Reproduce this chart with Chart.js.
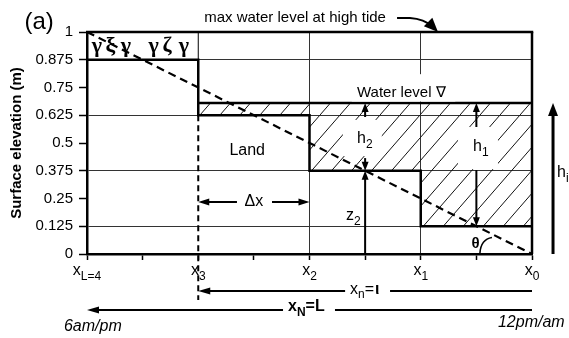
<!DOCTYPE html>
<html>
<head>
<meta charset="utf-8">
<script src="https://cdn.jsdelivr.net/npm/chart.js@4.4.0/dist/chart.umd.min.js"></script>
<style>
  html, body { margin: 0; padding: 0; background: #fff; }
  canvas { display: block; }
</style>
</head>
<body>
<canvas id="c" width="569" height="338"></canvas>
<script>
// ----------------------
// DATA
// ----------------------
const xTickMarks = [0, 0.5, 1, 1.5, 2, 2.5, 3, 3.5, 4];
const xLabelValues = [4, 3, 2, 1, 0];
const xLabelSubs = ['L=4', '3', '2', '1', '0'];
const xGridValues = [1, 2];

const yTickValues = [0, 0.125, 0.25, 0.375, 0.5, 0.625, 0.75, 0.875, 1];
const yTickLabels = ['0', '0.125', '0.25', '0.375', '0.5', '0.625', '0.75', '0.875', '1'];
const yGridValues = [0.125, 0.375, 0.625, 0.875];

// land profile (steps)
const landX = [4, 3, 3, 2, 2, 1, 1, 0];
const landY = [0.875, 0.875, 0.625, 0.625, 0.375, 0.375, 0.125, 0.125];

// water level
const waterX = [3, 0];
const waterY = [0.68, 0.68];

// sloping dashed line
const slopeX = [4, 0];
const slopeY = [1, 0];

const FONT = '"Liberation Sans", Arial, sans-serif';
Chart.defaults.font.family = FONT;
Chart.defaults.color = '#000';

const toPts = (xs, ys) => xs.map((x, i) => ({ x: x, y: ys[i] }));

// hatched water body: water line, then the land under it back to x3, closed
const landUnderWater = toPts(landX, landY).filter(p => p.x <= 3 && p.y < waterY[0]).reverse();
const hatchPts = toPts(waterX, waterY).concat(landUnderWater, [{ x: waterX[0], y: waterY[0] }]);

function makeHatch() {
  const c = document.createElement('canvas');
  c.width = 20; c.height = 23;
  const g = c.getContext('2d');
  g.strokeStyle = '#111';
  g.lineWidth = 1;
  g.beginPath();
  g.moveTo(0, 23); g.lineTo(20, 0);
  g.stroke();
  return g.createPattern(c, 'repeat');
}

// ----------------------
// DRAW HELPERS
// ----------------------
function seg(ctx, x1, y1, x2, y2, w, dash) {
  ctx.save();
  ctx.strokeStyle = '#000';
  ctx.lineWidth = w;
  ctx.setLineDash(dash || []);
  ctx.beginPath();
  ctx.moveTo(x1, y1);
  ctx.lineTo(x2, y2);
  ctx.stroke();
  ctx.restore();
}

function head(ctx, x, y, ang, len, half) {
  ctx.save();
  ctx.fillStyle = '#000';
  ctx.translate(x, y);
  ctx.rotate(ang);
  ctx.beginPath();
  ctx.moveTo(0, 0);
  ctx.lineTo(-len, -half);
  ctx.lineTo(-len, half);
  ctx.closePath();
  ctx.fill();
  ctx.restore();
}

// parts: [text, isSub]
function rich(ctx, x, y, parts, size, style, align) {
  const sub = Math.round(size * 0.72);
  const f = s => (style ? style + ' ' : '') + s + 'px ' + FONT;
  let w = 0;
  parts.forEach(p => { ctx.font = f(p[1] ? sub : size); w += ctx.measureText(p[0]).width; });
  let cx = align === 'center' ? x - w / 2 : x;
  ctx.save();
  ctx.fillStyle = '#000';
  ctx.textAlign = 'left';
  ctx.textBaseline = 'alphabetic';
  parts.forEach(p => {
    ctx.font = f(p[1] ? sub : size);
    ctx.fillText(p[0], cx, y + (p[1] ? size * 0.3 : 0));
    cx += ctx.measureText(p[0]).width;
  });
  ctx.restore();
  return w;
}

function text(ctx, s, x, y, font, align, base) {
  ctx.save();
  ctx.fillStyle = '#000';
  ctx.font = font;
  ctx.textAlign = align || 'left';
  ctx.textBaseline = base || 'middle';
  ctx.fillText(s, x, y);
  ctx.restore();
}

function whiteBox(ctx, x1, y1, x2, y2) {
  ctx.save();
  ctx.fillStyle = '#fff';
  ctx.fillRect(Math.min(x1, x2), Math.min(y1, y2), Math.abs(x2 - x1), Math.abs(y2 - y1));
  ctx.restore();
}

// ----------------------
// ANNOTATION PLUGIN
// ----------------------
const annotations = {
  id: 'annotations',
  beforeDatasetsDraw(chart) {
    const ctx = chart.ctx;
    const X = v => chart.scales.x.getPixelForValue(v);
    const Y = v => chart.scales.y.getPixelForValue(v);
    // thin line at x3 above the land top
    seg(ctx, X(3), Y(1), X(3), Y(0.875), 1);
    // dashed line at x3 down below the axis
    seg(ctx, X(3), Y(0.625), X(3), Y(-0.207), 2, [6, 4]);
  },
  afterDatasetsDraw(chart) {
    const ctx = chart.ctx;
    const X = v => chart.scales.x.getPixelForValue(v);
    const Y = v => chart.scales.y.getPixelForValue(v);
    const a = chart.chartArea;

    // top and right frame
    seg(ctx, a.left - 1, a.top, a.right + 1.25, a.top, 2.5);
    seg(ctx, a.right, a.top, a.right, a.bottom, 2.5);

    // panel label
    text(ctx, '(a)', X(4.43), Y(1.045), '24px ' + FONT, 'center');

    // max water level note + curved arrow
    text(ctx, 'max water level at high tide', X(2.13), Y(1.063), '15px ' + FONT, 'center');
    ctx.save();
    ctx.lineWidth = 2;
    ctx.beginPath();
    ctx.moveTo(X(1.213), Y(1.063));
    ctx.lineTo(X(1.097), Y(1.063));
    ctx.quadraticCurveTo(X(0.971), Y(1.059), X(0.89), Y(1.023));
    ctx.stroke();
    ctx.restore();
    head(ctx, X(0.845), Y(1.0), Math.PI / 4, 14, 6);

    // grass symbols on the upper land
    const grass = ['γ', 'ξ', 'γ', 'γ', 'ζ', 'γ'];
    const grassX = [3.91, 3.79, 3.65, 3.40, 3.28, 3.13];
    grass.forEach((g, i) => text(ctx, g, X(grassX[i]), Y(0.935), 'bold 22px "Liberation Serif", serif', 'center'));

    // water level label
    whiteBox(ctx, X(1.62), Y(0.81), X(0.69), Y(0.687));
    text(ctx, 'Water level ∇', X(1.573), Y(0.727), '15px ' + FONT, 'left');

    // land label
    text(ctx, 'Land', X(2.56), Y(0.468), '16px ' + FONT, 'center');

    // h2
    whiteBox(ctx, X(1.70), Y(0.604), X(1.35), Y(0.441));
    seg(ctx, X(1.5), Y(0.68) + 4, X(1.5), Y(0.617), 2);
    head(ctx, X(1.5), Y(0.68), -Math.PI / 2, 9, 3.5);
    seg(ctx, X(1.5), Y(0.432), X(1.5), Y(0.375) - 4, 2);
    head(ctx, X(1.5), Y(0.375), Math.PI / 2, 9, 3.5);
    rich(ctx, X(1.573), Y(0.5), [['h', 0], ['2', 1]], 16);

    // h1
    whiteBox(ctx, X(0.665), Y(0.572), X(0.306), Y(0.382));
    seg(ctx, X(0.5), Y(0.68) + 4, X(0.5), Y(0.572), 2);
    head(ctx, X(0.5), Y(0.68), -Math.PI / 2, 9, 3.5);
    seg(ctx, X(0.5), Y(0.378), X(0.5), Y(0.125) - 4, 2);
    head(ctx, X(0.5), Y(0.125), Math.PI / 2, 9, 3.5);
    rich(ctx, X(0.53), Y(0.464), [['h', 0], ['1', 1]], 16);

    // z2
    seg(ctx, X(1.5), Y(0), X(1.5), Y(0.375) + 4, 2);
    head(ctx, X(1.5), Y(0.375), -Math.PI / 2, 9, 3.5);
    rich(ctx, X(1.672), Y(0.153), [['z', 0], ['2', 1]], 16);

    // theta
    text(ctx, 'θ', X(0.508), Y(0.045), 'bold 15px ' + FONT, 'center');
    ctx.save();
    ctx.lineWidth = 1.5;
    ctx.beginPath();
    ctx.moveTo(X(0.468), Y(0.004));
    ctx.quadraticCurveTo(X(0.459), Y(0.066), X(0.36), Y(0.074));
    ctx.stroke();
    ctx.restore();

    // h_i on the right
    seg(ctx, X(-0.189), Y(0), X(-0.189), Y(0.68) + 6, 3);
    head(ctx, X(-0.189), Y(0.68), -Math.PI / 2, 13, 5);
    rich(ctx, X(-0.225), Y(0.347), [['h', 0], ['i', 1]], 16);

    // delta x
    seg(ctx, X(3) + 4, Y(0.234), X(2.652), Y(0.234), 2);
    head(ctx, X(3), Y(0.234), Math.PI, 11, 3.5);
    seg(ctx, X(2.337), Y(0.234), X(2) - 4, Y(0.234), 2);
    head(ctx, X(2), Y(0.234), 0, 11, 3.5);
    text(ctx, 'Δx', X(2.5), Y(0.234), '16px ' + FONT, 'center');

    // x tick labels with subscripts
    xLabelValues.forEach((v, i) => {
      rich(ctx, X(v), Y(-0.095), [['x', 0], [xLabelSubs[i], 1]], 16, '', 'center');
    });

    // x_n = l arrow
    seg(ctx, X(3) + 4, Y(-0.167), X(1.68), Y(-0.167), 2);
    seg(ctx, X(1.276), Y(-0.167), X(0), Y(-0.167), 2);
    head(ctx, X(3), Y(-0.167), Math.PI, 12, 3.5);
    const wn = rich(ctx, X(1.636), Y(-0.178), [['x', 0], ['n', 1], ['=', 0]], 16);
    rich(ctx, X(1.636) + wn + 1, Y(-0.178), [['ι', 0]], 16, 'bold');

    // x_N = L arrow
    seg(ctx, X(4) + 4, Y(-0.252), X(2.238), Y(-0.252), 2);
    seg(ctx, X(1.771), Y(-0.252), X(0), Y(-0.252), 2);
    head(ctx, X(4), Y(-0.252), Math.PI, 12, 3.5);
    rich(ctx, X(2.193), Y(-0.258), [['x', 0], ['N', 1], ['=L', 0]], 16, 'bold');

    // time labels
    text(ctx, '6am/pm', X(4.207), Y(-0.329), 'italic 16px ' + FONT, 'left');
    text(ctx, '12pm/am', X(0.306), Y(-0.311), 'italic 16px ' + FONT, 'left');
  }
};

// ----------------------
// CHART
// ----------------------
const ctx = document.getElementById('c').getContext('2d');

new Chart(ctx, {
  type: 'scatter',
  data: {
    datasets: [
      {
        data: toPts(slopeX, slopeY),
        showLine: true,
        borderColor: '#000',
        borderWidth: 2.2,
        borderDash: [8, 5],
        pointRadius: 0,
        order: 1
      },
      {
        data: toPts(waterX, waterY),
        showLine: true,
        borderColor: '#000',
        borderWidth: 2.5,
        pointRadius: 0,
        order: 2
      },
      {
        data: toPts(landX, landY),
        showLine: true,
        borderColor: '#000',
        borderWidth: 2.5,
        pointRadius: 0,
        order: 3
      },
      {
        data: hatchPts,
        showLine: true,
        borderWidth: 0,
        borderColor: 'rgba(0,0,0,0)',
        backgroundColor: makeHatch(),
        fill: 'shape',
        pointRadius: 0,
        order: 10
      }
    ]
  },
  options: {
    responsive: false,
    animation: false,
    devicePixelRatio: 1,
    layout: { padding: { left: 0, right: 37, top: 32, bottom: 0 } },
    plugins: { legend: { display: false }, tooltip: { enabled: false } },
    scales: {
      x: {
        type: 'linear',
        reverse: true,
        min: 0,
        max: 4,
        afterBuildTicks: s => { s.ticks = xTickMarks.map(v => ({ value: v })); },
        afterFit: s => { s.height = 84; },
        ticks: { display: false },
        grid: {
          color: c => xGridValues.includes(c.tick && c.tick.value) ? '#333' : 'rgba(0,0,0,0)',
          lineWidth: 1,
          tickColor: '#000',
          tickLength: 6,
          tickWidth: 1.5
        },
        border: { color: '#000', width: 2.5 }
      },
      y: {
        min: 0,
        max: 1,
        afterBuildTicks: s => { s.ticks = yTickValues.map(v => ({ value: v })); },
        afterFit: s => { s.width = 87; },
        ticks: {
          font: { size: 15 },
          color: '#000',
          padding: 6,
          callback: (v, i) => yTickLabels[i]
        },
        grid: {
          color: c => yGridValues.includes(c.tick && c.tick.value) ? '#333' : 'rgba(0,0,0,0)',
          lineWidth: 1,
          tickColor: '#000',
          tickLength: 8,
          tickWidth: 1.5
        },
        border: { color: '#000', width: 2.5 },
        title: {
          display: true,
          text: 'Surface elevation (m)',
          font: { size: 15, weight: 'bold' },
          color: '#000',
          padding: { top: 8, bottom: 0 }
        }
      }
    }
  },
  plugins: [annotations]
});
</script>
</body>
</html>
